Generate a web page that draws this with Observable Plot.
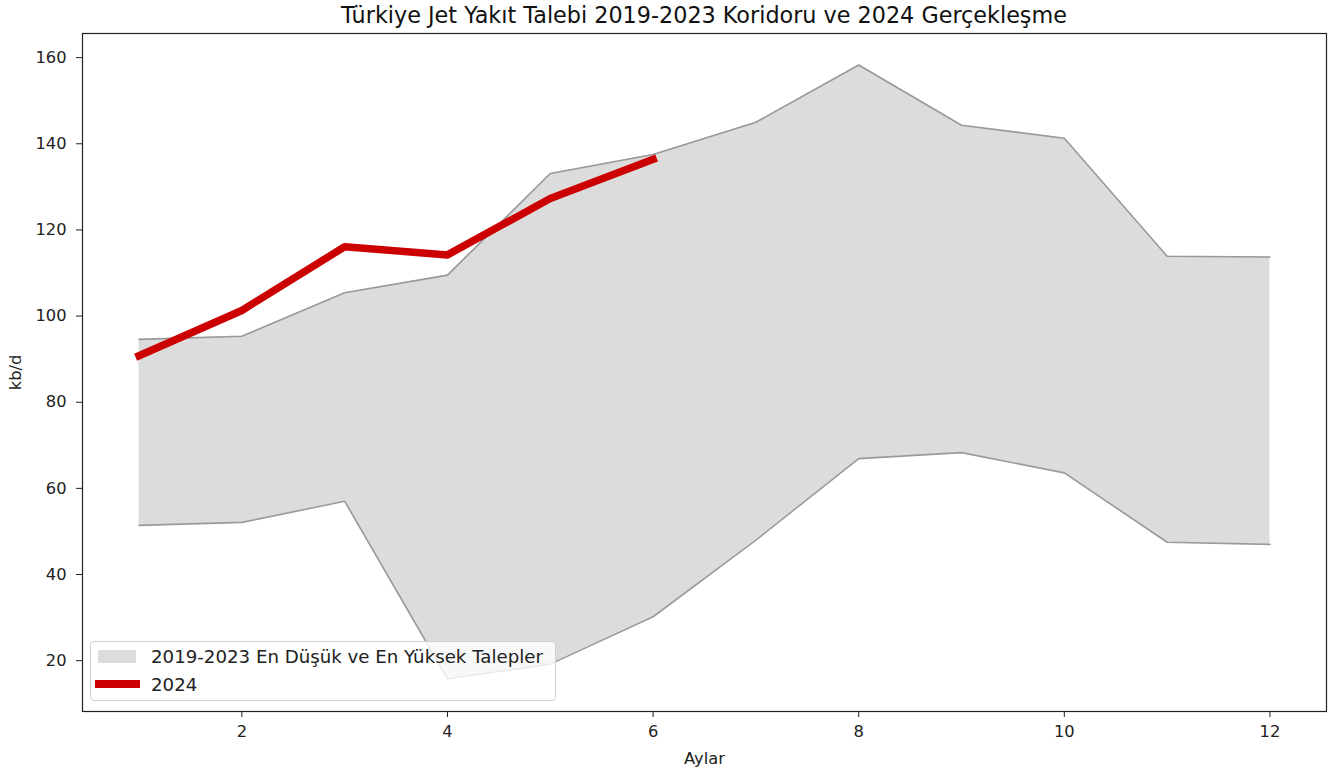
<!DOCTYPE html>
<html>
<head>
<meta charset="utf-8">
<script src="https://cdn.jsdelivr.net/npm/d3@7"></script>
<script src="https://cdn.jsdelivr.net/npm/@observablehq/plot@0.6"></script>
<style>
  body { margin: 0; background: #fff; font-family: "DejaVu Sans", sans-serif; }
  #wrap { position: relative; width: 1341px; height: 776px; }
  #title { position: absolute; left: 82px; width: 1244px; top: 2px; text-align: center; font-size: 22.3px; line-height: 26px; color: #111; }
  #chart { position: absolute; left: 0; top: 32px; }
  #legend { position: absolute; left: 90px; top: 641px; width: 464px; height: 58px; background: rgba(255,255,255,0.8); border: 1px solid #d0d0d0; border-radius: 4px; font-size: 18.2px; color: #222; }
  .row { position: absolute; display: flex; align-items: center; height: 22px; }
  .sw { display: inline-block; }
</style>
</head>
<body>
<div id="wrap">
  <div id="title">Türkiye Jet Yakıt Talebi 2019-2023 Koridoru ve 2024 Gerçekleşme</div>
  <div id="chart"></div>
  <div id="legend"></div>
</div>
<script>
const months = [1, 2, 3, 4, 5, 6, 7, 8, 9, 10, 11, 12];
const maxDemand = [94.6, 95.3, 105.4, 109.5, 133.1, 137.5, 145.0, 158.3, 144.3, 141.3, 113.9, 113.7];
const minDemand = [51.4, 52.1, 57.0, 15.8, 19.2, 30.2, 48.0, 66.9, 68.3, 63.6, 47.5, 47.0];
const months2024 = [1, 2, 3, 4, 5, 6];
const demand2024 = [90.8, 101.3, 116.1, 114.2, 127.3, 136.4];
const xTicks = [2, 4, 6, 8, 10, 12];
const yTicks = [20, 40, 60, 80, 100, 120, 140, 160];
const legendLabels = ["2019-2023 En Düşük ve En Yüksek Talepler", "2024"];

const band = months.map((m, i) => ({month: m, low: minDemand[i], high: maxDemand[i]}));
const actual = months2024.map((m, i) => ({month: m, value: demand2024[i]}));

const chart = Plot.plot({
  width: 1341,
  height: 744,
  marginLeft: 82,
  marginRight: 15,
  marginTop: 1,
  marginBottom: 65,
  style: {fontFamily: "DejaVu Sans", fontSize: "16.3px", color: "#222", background: "#fff"},
  x: {domain: [0.45, 12.55], ticks: xTicks, tickSize: 6, tickPadding: 8, label: "Aylar", labelAnchor: "center", labelArrow: "none", labelOffset: 52},
  y: {domain: [8.2, 165.6], ticks: yTicks, tickSize: 6, tickPadding: 10, label: "kb/d", labelAnchor: "center", labelArrow: "none", labelOffset: 73},
  marks: [
    Plot.areaY(band, {x: "month", y1: "low", y2: "high", fill: "#dcdcdc"}),
    Plot.line(band, {x: "month", y: "high", stroke: "#999", strokeWidth: 1.6}),
    Plot.line(band, {x: "month", y: "low", stroke: "#999", strokeWidth: 1.6}),
    Plot.line(actual, {x: "month", y: "value", stroke: "#cc0000", strokeWidth: 7.5, strokeLinecap: "square", strokeLinejoin: "round"}),
    Plot.frame({stroke: "#222", strokeWidth: 1.2})
  ]
});
document.getElementById("chart").appendChild(chart);

const legend = document.getElementById("legend");
legend.innerHTML = `
  <div class="row" style="top:3px;left:7px;"><span class="sw" style="width:38px;height:13px;background:#dcdcdc;"></span><span style="margin-left:15px;">${legendLabels[0]}</span></div>
  <div class="row" style="top:31px;left:4px;"><span class="sw" style="width:45px;height:8px;background:#cc0000;"></span><span style="margin-left:11px;">${legendLabels[1]}</span></div>
`;
</script>
</body>
</html>
